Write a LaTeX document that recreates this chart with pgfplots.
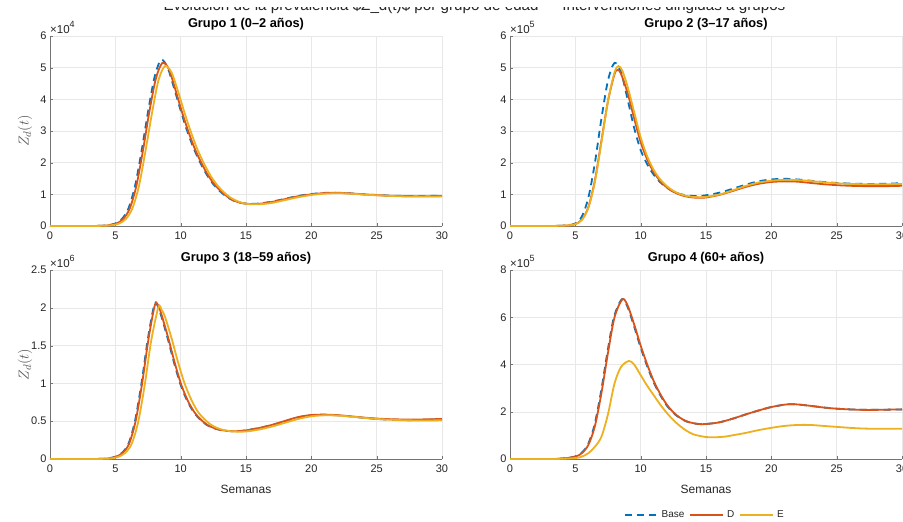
\documentclass[border=0pt]{standalone}
\usepackage{pgfplots}
\pgfplotsset{compat=1.18}
\usepackage{fontspec}
\setmainfont{Liberation Sans}
\definecolor{mblue}{rgb}{0,0.447,0.741}
\definecolor{mred}{rgb}{0.85,0.325,0.098}
\definecolor{myel}{rgb}{0.929,0.694,0.125}
\definecolor{txt}{rgb}{0.15,0.15,0.15}
\pgfplotsset{
  mstyle/.style={
    scale only axis, width=392pt,
    xmin=0, xmax=30, xtick={0,5,...,30}, ymin=0,
    axis lines*=left,
    axis line style={black!55, line width=0.6pt},
    grid=major, grid style={black!9, line width=0.5pt},
    tick style={black!55}, tick align=inside, major tick length=3pt,
    ticklabel style={font=\fontsize{11}{13}\selectfont, text=txt},
    xticklabel style={yshift=-2pt},
    /pgf/number format/assume math mode=true,
    /pgf/number format/fixed,
    title style={font=\bfseries\fontsize{12.8}{15}\selectfont, text=black, at={(0.5,1)}, anchor=base, yshift=3pt, inner sep=0pt},
    xlabel style={font=\fontsize{12}{14}\selectfont, text=txt, at={(axis description cs:0.5,0)}, anchor=base, yshift=-34pt, inner sep=0pt},
    ylabel style={font=\fontsize{15}{17}\selectfont, text=txt!80, at={(axis description cs:-0.064,0.5)}, anchor=center, rotate=0},
    every axis plot/.append style={line width=1.8pt, smooth, tension=0.5},
    clip=false,
  },
  pb/.style={mblue, dash pattern=on 7pt off 5pt},
  pd/.style={mred},
  pe/.style={myel},
}
\newcommand{\expo}[1]{\node[anchor=base west, inner sep=0pt, text=txt, font=\fontsize{11.5}{13}\selectfont] at (axis description cs:0,1) [yshift=3pt] {×10\raisebox{5.5pt}{\fontsize{9}{10}\selectfont #1}};}
\begin{document}
\begin{tikzpicture}
\fill[white] (0,0) rectangle (903pt,-522pt);
\node[anchor=base, font=\fontsize{15.2}{17}\selectfont, text=txt, inner sep=0pt] at (474.5pt,-10.7pt) {Evolución de la prevalencia \$Z\_d(t)\$ por grupo de edad — Intervenciones dirigidas a grupos};
\fill[white] (0,0) rectangle (903pt,-6.6pt);

% ---------- Grupo 1 ----------
\begin{axis}[mstyle, at={(50pt,-226pt)}, anchor=south west, height=190pt,
  ymax=6, ytick={0,1,...,6}, title={Grupo 1 (0–2 años)}, ylabel={$Z_d(t)$}]
\addplot[pb] coordinates {(0,0) (3,0) (4,0.01) (4.5,0.03) (5,0.08) (5.5,0.22) (6,0.55) (6.5,1.25) (7,2.35) (7.5,3.6) (8,4.7) (8.5,5.25) (9,5.0) (9.5,4.35) (10,3.65) (10.5,3.0) (11,2.45) (11.5,2.0) (12,1.62) (12.5,1.32) (13,1.1) (13.5,0.93) (14,0.81) (14.5,0.74) (15,0.71) (15.5,0.70) (16,0.71) (17,0.77) (18,0.86) (19,0.95) (20,1.01) (21,1.045) (22,1.05) (23,1.03) (24,1.0) (25,0.98) (26,0.96) (27,0.95) (28,0.95) (29,0.95) (30,0.96)};
\addplot[pd] coordinates {(0,0) (3,0) (4.1,0.01) (4.6,0.03) (5.1,0.08) (5.6,0.22) (6.1,0.55) (6.6,1.25) (7.1,2.35) (7.6,3.6) (8.1,4.65) (8.6,5.15) (9.1,4.95) (9.6,4.3) (10.1,3.6) (10.6,2.97) (11.1,2.42) (11.6,1.98) (12.1,1.6) (12.6,1.31) (13.1,1.09) (13.6,0.92) (14.1,0.8) (14.6,0.73) (15.1,0.7) (15.6,0.695) (16.1,0.705) (17,0.76) (18,0.85) (19,0.94) (20,1.0) (21,1.04) (22,1.045) (23,1.03) (24,1.0) (25,0.975) (26,0.955) (27,0.945) (28,0.94) (29,0.94) (30,0.945)};
\addplot[pe] coordinates {(0,0) (3,0) (4.3,0.01) (4.8,0.03) (5.3,0.08) (5.8,0.22) (6.3,0.55) (6.8,1.25) (7.3,2.35) (7.8,3.55) (8.3,4.6) (8.8,5.05) (9.3,4.85) (9.8,4.25) (10.3,3.57) (10.8,2.95) (11.3,2.4) (11.8,1.96) (12.3,1.58) (12.8,1.29) (13.3,1.07) (13.8,0.9) (14.3,0.79) (14.8,0.72) (15.3,0.69) (15.8,0.685) (16.3,0.695) (17,0.73) (18,0.82) (19,0.91) (20,0.98) (21,1.02) (22,1.035) (23,1.02) (24,0.995) (25,0.97) (26,0.95) (27,0.935) (28,0.93) (29,0.93) (30,0.93)};
\expo{4}
\end{axis}

% ---------- Grupo 2 ----------
\begin{axis}[mstyle, at={(510pt,-226pt)}, anchor=south west, height=190pt,
  ymax=6, ytick={0,1,...,6}, title={Grupo 2 (3–17 años)}]
\addplot[pb] coordinates {(0,0) (3,0) (4,0.01) (4.5,0.03) (5,0.08) (5.5,0.3) (6,0.9) (6.5,2.0) (7,3.4) (7.5,4.6) (8,5.15) (8.5,4.85) (9,4.0) (9.5,3.1) (10,2.4) (10.5,1.95) (11,1.62) (11.5,1.38) (12,1.21) (12.5,1.09) (13,1.01) (13.5,0.97) (14,0.95) (14.5,0.95) (15,0.97) (16,1.05) (17,1.17) (18,1.3) (19,1.41) (20,1.47) (21,1.49) (22,1.47) (23,1.43) (24,1.39) (25,1.36) (26,1.34) (27,1.33) (28,1.33) (29,1.34) (30,1.35)};
\addplot[pd] coordinates {(0,0) (3,0) (4,0.01) (4.5,0.02) (5,0.06) (5.5,0.2) (6,0.6) (6.5,1.45) (7,2.7) (7.5,3.95) (8,4.8) (8.25,4.93) (8.5,4.8) (9,4.2) (9.5,3.4) (10,2.65) (10.5,2.1) (11,1.7) (11.5,1.42) (12,1.22) (12.5,1.08) (13,0.99) (13.5,0.93) (14,0.9) (14.5,0.89) (15,0.9) (16,0.98) (17,1.1) (18,1.23) (19,1.33) (20,1.39) (21,1.41) (22,1.4) (23,1.36) (24,1.32) (25,1.29) (26,1.27) (27,1.26) (28,1.26) (29,1.26) (30,1.27)};
\addplot[pe] coordinates {(0,0) (3,0) (4,0.01) (4.5,0.02) (5,0.06) (5.5,0.19) (6,0.58) (6.5,1.4) (7,2.65) (7.5,3.95) (8,4.85) (8.3,5.05) (8.6,4.9) (9,4.4) (9.5,3.6) (10,2.8) (10.5,2.2) (11,1.77) (11.5,1.47) (12,1.26) (12.5,1.11) (13,1.01) (13.5,0.95) (14,0.92) (14.5,0.91) (15,0.92) (16,0.99) (17,1.12) (18,1.26) (19,1.37) (20,1.43) (21,1.46) (22,1.45) (23,1.42) (24,1.38) (25,1.35) (26,1.33) (27,1.32) (28,1.32) (29,1.32) (30,1.33)};
\expo{5}
\end{axis}

% ---------- Grupo 3 ----------
\begin{axis}[mstyle, at={(50pt,-459pt)}, anchor=south west, height=189pt,
  ymax=2.5, ytick={0,0.5,...,2.5}, title={Grupo 3 (18–59 años)}, ylabel={$Z_d(t)$}, xlabel={Semanas}]
\addplot[pb] coordinates {(0,0) (3,0) (4,0.003) (4.5,0.01) (5,0.03) (5.5,0.08) (6,0.2) (6.5,0.5) (7,1.0) (7.5,1.6) (8,2.05) (8.3,2.0) (8.5,1.9) (9,1.6) (9.5,1.27) (10,0.98) (10.5,0.77) (11,0.62) (11.5,0.52) (12,0.45) (12.5,0.41) (13,0.385) (13.5,0.372) (14,0.368) (14.5,0.37) (15,0.38) (16,0.41) (17,0.45) (18,0.5) (19,0.55) (20,0.58) (21,0.585) (22,0.578) (23,0.563) (24,0.545) (25,0.53) (26,0.52) (27,0.515) (28,0.515) (29,0.52) (30,0.525)};
\addplot[pd] coordinates {(0,0) (3,0) (4.05,0.003) (4.55,0.01) (5.05,0.03) (5.55,0.08) (6.05,0.2) (6.55,0.5) (7.05,1.0) (7.55,1.6) (8.05,2.05) (8.35,2.0) (8.55,1.9) (9.05,1.6) (9.55,1.27) (10.05,0.98) (10.55,0.77) (11.05,0.62) (11.55,0.52) (12.05,0.45) (12.55,0.41) (13.05,0.385) (13.55,0.372) (14.05,0.368) (14.55,0.37) (15.05,0.38) (16,0.41) (17,0.452) (18,0.505) (19,0.555) (20,0.582) (21,0.587) (22,0.58) (23,0.565) (24,0.548) (25,0.535) (26,0.527) (27,0.523) (28,0.523) (29,0.525) (30,0.53)};
\addplot[pe] coordinates {(0,0) (3,0) (4.25,0.003) (4.75,0.01) (5.25,0.03) (5.75,0.08) (6.25,0.2) (6.75,0.49) (7.25,0.98) (7.75,1.57) (8.3,2.01) (8.55,1.97) (8.8,1.88) (9.3,1.6) (9.8,1.28) (10.3,1.0) (10.8,0.79) (11.3,0.63) (11.8,0.53) (12.3,0.455) (12.8,0.41) (13.3,0.383) (13.8,0.368) (14.3,0.362) (14.8,0.362) (15.3,0.37) (16,0.39) (17,0.43) (18,0.48) (19,0.53) (20,0.565) (21,0.578) (22,0.575) (23,0.562) (24,0.545) (25,0.53) (26,0.52) (27,0.513) (28,0.51) (29,0.51) (30,0.512)};
\expo{6}
\end{axis}

% ---------- Grupo 4 ----------
\begin{axis}[mstyle, at={(510pt,-459pt)}, anchor=south west, height=189pt,
  ymax=8, ytick={0,2,...,8}, title={Grupo 4 (60+ años)}, xlabel={Semanas},
  legend style={at={(axis description cs:0.497,-0.296)}, anchor=center, legend columns=3, draw=none, fill=none, font=\fontsize{10}{12}\selectfont, text=txt, inner sep=0pt, /tikz/every even column/.append style={column sep=3pt}, /tikz/every odd column/.append style={column sep=1pt}},
  legend image code/.code={\draw[#1, sharp plot] (0pt,0pt) -- (33pt,0pt);}]
\addplot[pb] coordinates {(0,0) (3,0) (3.95,0.02) (4.95,0.1) (5.45,0.25) (5.95,0.6) (6.45,1.4) (6.95,2.8) (7.45,4.5) (7.95,6.0) (8.55,6.76) (8.95,6.5) (9.45,5.7) (9.95,4.8) (10.45,4.0) (10.95,3.3) (11.45,2.75) (11.95,2.3) (12.45,1.98) (12.95,1.75) (13.45,1.6) (13.95,1.52) (14.45,1.48) (14.95,1.48) (16,1.55) (17,1.7) (18,1.88) (19,2.05) (20,2.2) (21,2.3) (21.5,2.32) (22,2.31) (23,2.25) (24,2.18) (25,2.13) (26,2.1) (27,2.08) (28,2.08) (29,2.09) (30,2.1)};
\addlegendentry{Base}
\addplot[pd] coordinates {(0,0) (3,0) (4,0.02) (5,0.1) (5.5,0.25) (6,0.6) (6.5,1.4) (7,2.8) (7.5,4.5) (8,6.0) (8.6,6.76) (9,6.5) (9.5,5.7) (10,4.8) (10.5,4.0) (11,3.3) (11.5,2.75) (12,2.3) (12.5,1.98) (13,1.75) (13.5,1.6) (14,1.52) (14.5,1.48) (15,1.48) (16,1.55) (17,1.7) (18,1.88) (19,2.05) (20,2.2) (21,2.3) (21.5,2.32) (22,2.31) (23,2.25) (24,2.18) (25,2.13) (26,2.1) (27,2.08) (28,2.08) (29,2.09) (30,2.1)};
\addlegendentry{D}
\addplot[pe] coordinates {(0,0) (3,0) (4,0.01) (5,0.04) (5.5,0.1) (6,0.25) (6.5,0.52) (7,0.95) (7.5,1.9) (8,3.2) (8.5,3.9) (9.1,4.15) (9.5,4.0) (10,3.55) (10.5,3.1) (11,2.7) (11.5,2.3) (12,1.95) (12.5,1.65) (13,1.4) (13.5,1.2) (14,1.05) (14.5,0.98) (15,0.93) (15.7,0.92) (16.5,0.95) (17,1.0) (18,1.1) (19,1.22) (20,1.32) (21,1.4) (22,1.44) (23,1.44) (24,1.4) (25,1.36) (26,1.32) (27,1.29) (28,1.28) (29,1.28) (30,1.28)};
\addlegendentry{E}
\expo{5}
\end{axis}
\pgfresetboundingbox
\useasboundingbox (0,0) rectangle (903pt,-522pt);
\end{tikzpicture}
\end{document}
